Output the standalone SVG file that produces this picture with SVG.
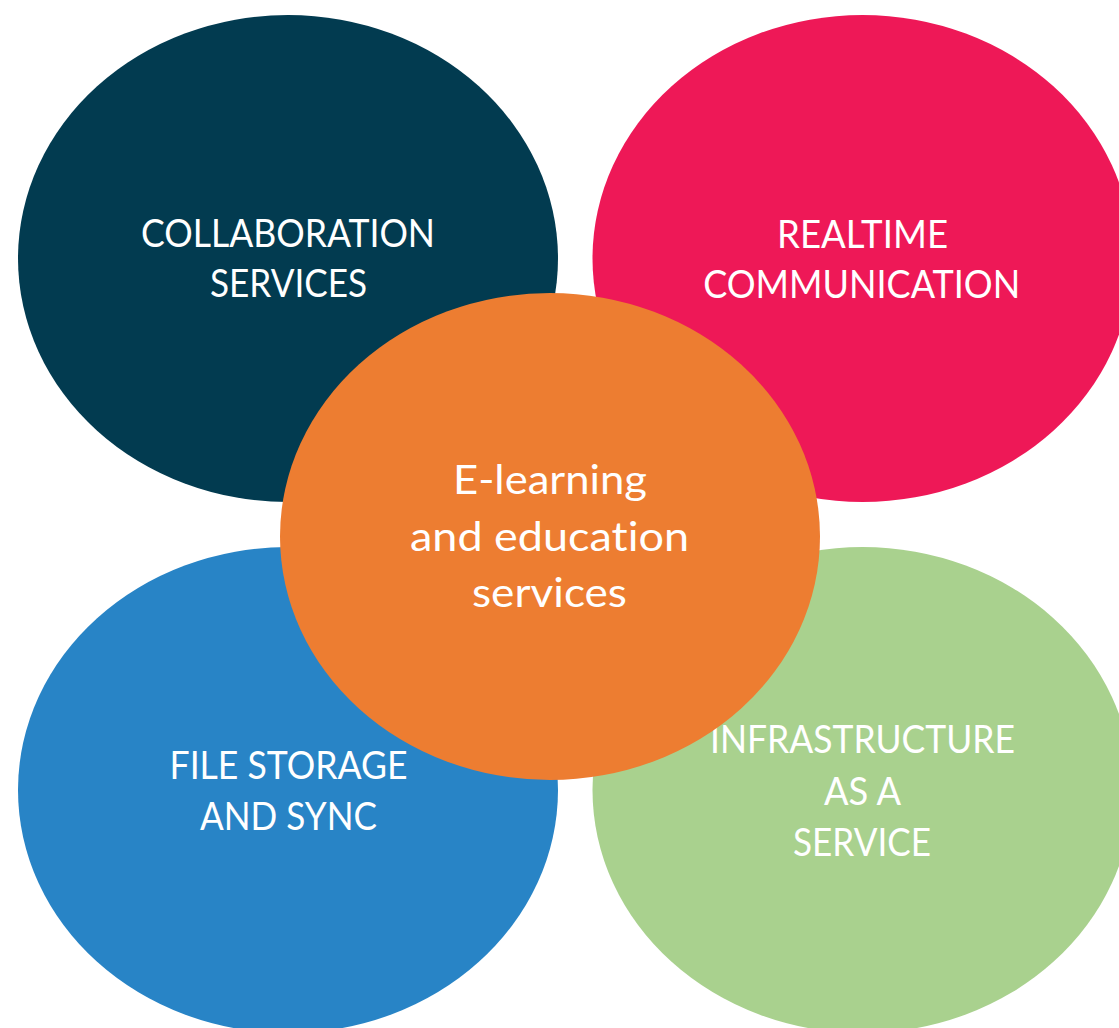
<svg xmlns="http://www.w3.org/2000/svg" width="1119" height="1028" viewBox="0 0 1119 1028">
<style>
.lbl{font-family:Lato,"Open Sans","Liberation Sans",sans-serif;fill:#ffffff;text-anchor:middle;font-variant-ligatures:none;font-feature-settings:"liga" 0,"clig" 0;}
.cap{font-size:38px;}
.ctr{font-size:41px;}
</style>
<rect x="0" y="0" width="1119" height="1028" fill="#ffffff"/>
<g id="connectors"></g>
<g id="node-collaboration">
<ellipse cx="288" cy="258.5" rx="270" ry="243.5" fill="#023b50"/>
<text class="lbl cap" x="288" y="247" textLength="294" lengthAdjust="spacingAndGlyphs">COLLABORATION</text>
<text class="lbl cap" x="288.5" y="297" textLength="157" lengthAdjust="spacingAndGlyphs">SERVICES</text>
</g>
<g id="node-realtime">
<ellipse cx="862.5" cy="258.5" rx="270" ry="243.5" fill="#ee1857"/>
<text class="lbl cap" x="862.5" y="247.5" textLength="171" lengthAdjust="spacingAndGlyphs">REALTIME</text>
<text class="lbl cap" x="861.7" y="297.5" textLength="317" lengthAdjust="spacingAndGlyphs">COMMUNICATION</text>
</g>
<g id="node-filestorage">
<ellipse cx="288" cy="790" rx="270" ry="243" fill="#2884c6"/>
<text class="lbl cap" x="288.5" y="779" textLength="238" lengthAdjust="spacingAndGlyphs">FILE STORAGE</text>
<text class="lbl cap" x="288.5" y="830" textLength="177" lengthAdjust="spacingAndGlyphs">AND SYNC</text>
</g>
<g id="node-iaas">
<ellipse cx="862.5" cy="790" rx="270" ry="243" fill="#a9d18e"/>
<text class="lbl cap" x="862.5" y="753" textLength="305" lengthAdjust="spacingAndGlyphs">INFRASTRUCTURE</text>
<text class="lbl cap" x="862.5" y="804.5" textLength="77" lengthAdjust="spacingAndGlyphs">AS A</text>
<text class="lbl cap" x="862" y="855.5" textLength="138" lengthAdjust="spacingAndGlyphs">SERVICE</text>
</g>
<g id="node-elearning">
<ellipse cx="550" cy="536.5" rx="270" ry="243.5" fill="#ed7d31"/>
<text class="lbl ctr" x="550" y="494" textLength="194" lengthAdjust="spacingAndGlyphs">E-learning</text>
<text class="lbl ctr" x="549.5" y="550.5" textLength="279" lengthAdjust="spacingAndGlyphs">and education</text>
<text class="lbl ctr" x="549.5" y="607" textLength="155" lengthAdjust="spacingAndGlyphs">services</text>
</g>
</svg>
